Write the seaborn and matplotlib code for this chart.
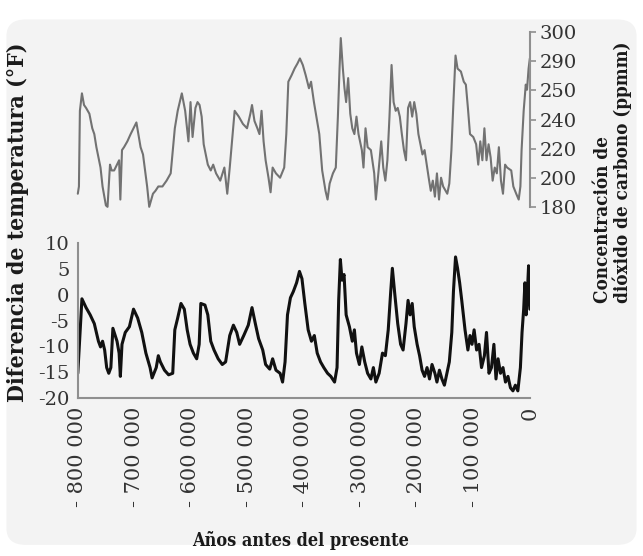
import numpy as np
import pandas as pd
import matplotlib
matplotlib.use("Agg")
import matplotlib.pyplot as plt
from matplotlib.patches import FancyBboxPatch
import seaborn as sns

sns.set_style("white")
plt.rcParams['font.family'] = ['DejaVu Serif']
plt.rcParams['axes.unicode_minus'] = False

# CO2 record (thousands of years before present, ppm)
co2_kyr = [-800, -798, -796.3, -792.7, -789.0, -785.4, -779.5, -774.4, -770.8, -767.1,
           -763.5, -759.8, -756.2, -750.3, -747.4, -743.0, -740.1, -735.7, -730.6, -726.9,
           -724.7, -721.8, -718.2, -712.3, -706.5, -701.4, -696.3, -691.9, -688.9, -684.6,
           -681.6, -677.3, -673.6, -670.0, -667.0, -662.6, -657.5, -650.2, -642.9, -635.6,
           -628.3, -623.2, -615.9, -610.0, -604.2, -600.5, -596.9, -591.8, -588.1, -584.5,
           -580.8, -577.2, -569.9, -564.7, -560.4, -555.3, -547.9, -540.6, -535.5, -531.1,
           -526.0, -522.4, -515.1, -507.8, -500.5, -494.6, -491.7, -487.3, -482.2, -478.5,
           -474.8, -471.2, -467.6, -462.5, -458.8, -455.2, -449.3, -442.0, -434.7, -431.0,
           -427.4, -421.6, -416.4, -411.3, -406.9, -401.8, -396.7, -390.9, -387.2, -382.1,
           -377.7, -372.6, -367.5, -361.6, -358.0, -354.3, -348.5, -343.4, -339.7, -336.8,
           -334.6, -330.9, -328.0, -325.1, -321.5, -317.8, -314.2, -310.5, -306.8, -303.2,
           -297.3, -294.4, -290.8, -287.1, -281.3, -275.4, -272.5, -268.1, -263.0, -259.4,
           -255.7, -252.1, -248.4, -244.7, -241.1, -237.4, -233.8, -230.1, -226.5, -222.8,
           -219.2, -215.5, -211.9, -208.2, -204.6, -200.9, -197.2, -193.6, -190.0, -186.3,
           -179.0, -175.3, -171.7, -168.0, -164.4, -160.7, -157.1, -153.4, -146.1, -142.5,
           -138.8, -135.2, -131.5, -127.9, -122.0, -116.9, -113.2, -109.6, -105.9, -100.1,
           -95.0, -91.3, -87.7, -84.0, -80.4, -76.7, -73.0, -69.4, -65.8, -62.1,
           -58.4, -54.8, -51.1, -47.5, -43.8, -40.2, -32.9, -29.2, -24.1, -19.7,
           -16.7, -14.6, -10.9, -7.2, -5.0, -2.2, 0]
co2_ppm = [189, 194, 243, 249, 245, 244, 242, 234, 230, 221,
           214, 207, 194, 181, 180, 209, 205, 205, 209, 212,
           185, 219, 221, 225, 230, 234, 238, 228, 221, 216,
           207, 194, 180, 185, 189, 191, 194, 194, 198, 203,
           234, 243, 249, 243, 225, 246, 228, 244, 246, 245,
           241, 223, 209, 205, 209, 203, 198, 207, 189, 207,
           230, 243, 241, 237, 234, 242, 245, 239, 234, 230,
           243, 225, 212, 200, 190, 207, 203, 200, 207, 230,
           262, 271, 280, 287, 291, 285, 271, 253, 262, 246,
           241, 230, 205, 191, 185, 196, 203, 207, 241, 280,
           298, 280, 253, 246, 267, 242, 234, 230, 241, 230,
           219, 207, 234, 221, 219, 203, 185, 203, 225, 207,
           198, 212, 241, 285, 246, 243, 244, 241, 230, 219,
           212, 244, 246, 241, 246, 242, 230, 223, 216, 219,
           200, 191, 198, 187, 203, 185, 200, 194, 189, 196,
           219, 246, 292, 280, 276, 262, 258, 244, 230, 228,
           223, 209, 225, 212, 234, 212, 223, 214, 198, 207,
           203, 221, 198, 189, 209, 207, 205, 194, 189, 185,
           194, 219, 243, 258, 251, 280, 291]

# temperature difference record (thousands of years before present, degrees F)
temp_kyr = [-800.0, -792.7, -785.4, -778.1, -770.8, -767.1, -763.5, -759.8, -756.2, -752.5,
            -748.9, -745.2, -741.5, -737.9, -730.6, -726.9, -724.7, -721.8, -716.0, -708.7,
            -701.4, -694.1, -686.8, -679.5, -672.1, -668.5, -661.2, -657.5, -653.9, -646.6,
            -639.3, -632.0, -628.3, -623.2, -617.4, -611.5, -606.4, -601.3, -595.4, -589.6,
            -585.2, -582.3, -575.0, -569.9, -564.7, -558.9, -551.6, -544.3, -538.4, -531.1,
            -524.6, -518.7, -513.6, -506.3, -498.3, -491.7, -485.8, -480.0, -472.7, -467.6,
            -460.3, -455.2, -449.3, -442.0, -437.6, -433.2, -428.9, -423.7, -418.6, -412.8,
            -407.7, -403.3, -398.2, -392.3, -386.5, -381.4, -376.3, -370.4, -364.6, -358.0,
            -352.2, -345.6, -341.2, -338.3, -335.3, -332.4, -328.8, -325.1, -319.3, -314.2,
            -310.5, -306.8, -301.7, -297.3, -292.2, -287.1, -281.3, -276.9, -272.5, -266.7,
            -260.8, -255.7, -250.6, -246.2, -243.3, -238.9, -233.8, -228.7, -224.3, -219.2,
            -215.5, -211.9, -208.2, -204.6, -199.5, -195.1, -190.7, -186.3, -181.9, -177.5,
            -173.1, -168.0, -164.4, -160.0, -155.6, -151.2, -146.8, -142.5, -138.1, -135.2,
            -131.5, -127.9, -124.2, -120.5, -114.7, -109.6, -105.9, -102.3, -98.6, -94.2,
            -89.9, -85.5, -80.4, -76.7, -72.3, -67.9, -63.6, -59.9, -56.2, -51.9,
            -47.5, -43.1, -38.7, -34.3, -29.9, -25.6, -21.2, -16.7, -13.8, -10.9,
            -8.7, -6.5, -4.3, -2.2, 0.0]
temp_f = [-15.2, -0.8, -2.5, -3.9, -5.6, -7.3, -9.0, -10.1, -9.0, -10.7,
          -14.1, -15.2, -14.1, -6.5, -9.0, -11.3, -15.8, -9.6, -7.3, -6.2,
          -2.8, -4.5, -7.3, -11.3, -14.1, -16.1, -14.1, -11.8, -13.0, -14.6,
          -15.5, -15.2, -6.8, -4.5, -1.7, -2.8, -6.8, -9.6, -11.3, -12.4,
          -9.6, -1.7, -2.0, -3.9, -9.0, -10.7, -12.4, -13.5, -13.0, -7.9,
          -5.9, -7.3, -9.6, -7.9, -5.9, -2.5, -5.6, -8.5, -10.7, -13.5,
          -14.4, -12.4, -14.6, -15.2, -16.9, -13.0, -3.9, -0.6, 0.6, 2.3,
          4.5, 3.1, -1.7, -6.8, -9.0, -7.9, -11.3, -13.0, -14.1, -15.2,
          -15.8, -16.9, -14.1, -1.1, 6.8, 2.8, 3.9, -3.9, -6.2, -9.0,
          -6.8, -11.3, -13.5, -10.1, -13.0, -15.2, -16.3, -14.1, -16.9, -15.2,
          -11.3, -11.8, -6.8, 0.6, 5.1, 0.0, -5.6, -9.6, -10.7, -5.6,
          -1.1, -3.9, -1.7, -6.2, -9.6, -11.8, -14.6, -15.8, -14.1, -16.3,
          -13.5, -15.2, -16.9, -14.6, -16.3, -17.5, -15.2, -13.0, -7.3, 0.6,
          7.3, 5.1, 2.3, -1.1, -6.8, -10.7, -7.9, -9.6, -6.8, -10.7,
          -9.6, -14.1, -11.8, -7.3, -15.2, -14.1, -9.6, -16.3, -12.4, -15.2,
          -14.1, -16.9, -15.8, -18.0, -18.6, -17.5, -18.6, -14.1, -7.3, -2.8,
          2.3, -3.9, 0.6, 5.6, -2.8]

co2_tick_values = [180, 200, 220, 240, 250, 290, 300]
temp_tick_values = [-20, -15, -10, -5, 0, 5, 10]
year_ticks = [-800, -700, -600, -500, -400, -300, -200, -100, 0]
year_labels = ["- 800 000", "- 700 000", "- 600 000", "- 500 000", "- 400 000",
               "- 300 000", "- 200 000", "- 100 000", "0"]

df_co2 = pd.DataFrame({"kyr": co2_kyr, "ppm": co2_ppm})
df_temp = pd.DataFrame({"kyr": temp_kyr, "temp": temp_f})

spine_col = "#8f8f8f"
tick_txt = "#333333"
label_font = dict(fontweight="bold", fontstretch="condensed", color="#1a1a1a")

fig = plt.figure(figsize=(6.43, 5.56), dpi=100)
fig.patch.set_facecolor("white")
fig.patches.append(FancyBboxPatch((0.01, 0.02), 0.98, 0.945,
                                  boxstyle="round,pad=0,rounding_size=0.03",
                                  transform=fig.transFigure, facecolor="#f3f3f3",
                                  edgecolor="none", zorder=-10))

ax_co2 = fig.add_axes([0.121, 0.628, 0.703, 0.314])
ax_t = fig.add_axes([0.121, 0.284, 0.703, 0.279])
for ax in (ax_co2, ax_t):
    ax.set_facecolor("none")

# top panel - CO2, the axis labels are not evenly spaced in value so use a piecewise scale
sns.lineplot(data=df_co2, x="kyr", y="ppm", ax=ax_co2, color="#727272",
             linewidth=1.5, estimator=None, sort=False)
idx = np.arange(len(co2_tick_values))
ax_co2.set_yscale("function",
                  functions=(lambda v: np.interp(v, co2_tick_values, idx),
                             lambda u: np.interp(u, idx, co2_tick_values)))
ax_co2.set_ylim(180, 300)
ax_co2.set_xlim(-800, 0)
ax_co2.set_yticks(co2_tick_values)
ax_co2.set_yticklabels([str(v) for v in co2_tick_values])
ax_co2.yaxis.tick_right()
ax_co2.set_xticks([])
ax_co2.set_xlabel("")
ax_co2.set_ylabel("")
for s in ("left", "top", "bottom"):
    ax_co2.spines[s].set_visible(False)
ax_co2.spines["right"].set_color(spine_col)
ax_co2.spines["right"].set_linewidth(1.5)
ax_co2.tick_params(axis="y", right=True, left=False, length=4, width=1.2,
                   color=spine_col, labelcolor=tick_txt, labelsize=14, pad=3)
for ln in ax_co2.lines:
    ln.set_clip_on(False)

# bottom panel - temperature
sns.lineplot(data=df_temp, x="kyr", y="temp", ax=ax_t, color="#111111",
             linewidth=2.2, estimator=None, sort=False)
ax_t.set_xlim(-800, 0)
ax_t.set_ylim(-20, 10)
ax_t.set_yticks(temp_tick_values)
ax_t.set_yticklabels([str(v) for v in temp_tick_values])
ax_t.set_xticks(year_ticks)
ax_t.set_xticklabels(year_labels, rotation=90, va="top", ha="center")
ax_t.set_xlabel("")
ax_t.set_ylabel("")
for s in ("right", "top"):
    ax_t.spines[s].set_visible(False)
for s in ("left", "bottom"):
    ax_t.spines[s].set_color(spine_col)
    ax_t.spines[s].set_linewidth(1.5)
ax_t.tick_params(axis="y", length=4, width=1.2, color=spine_col, labelcolor=tick_txt,
                 labelsize=14, pad=2)
ax_t.tick_params(axis="x", length=3, width=1.2, color=spine_col, labelcolor=tick_txt,
                 labelsize=15, pad=6, direction="in")

fig.text(0.028, 0.60, "Diferencia de temperatura (°F)", rotation=90,
         ha="center", va="center", fontsize=16.5, **label_font)
fig.text(0.953, 0.455, "Concentración de\ndióxido de carbono (ppmm)", rotation=90,
         ha="center", va="bottom", fontsize=13.5, multialignment="left",
         linespacing=1.05, **label_font)
fig.text(0.468, 0.028, "Años antes del presente", ha="center", va="center",
         fontsize=13, **label_font)

fig.savefig("out.png", dpi=100, facecolor=fig.get_facecolor())
